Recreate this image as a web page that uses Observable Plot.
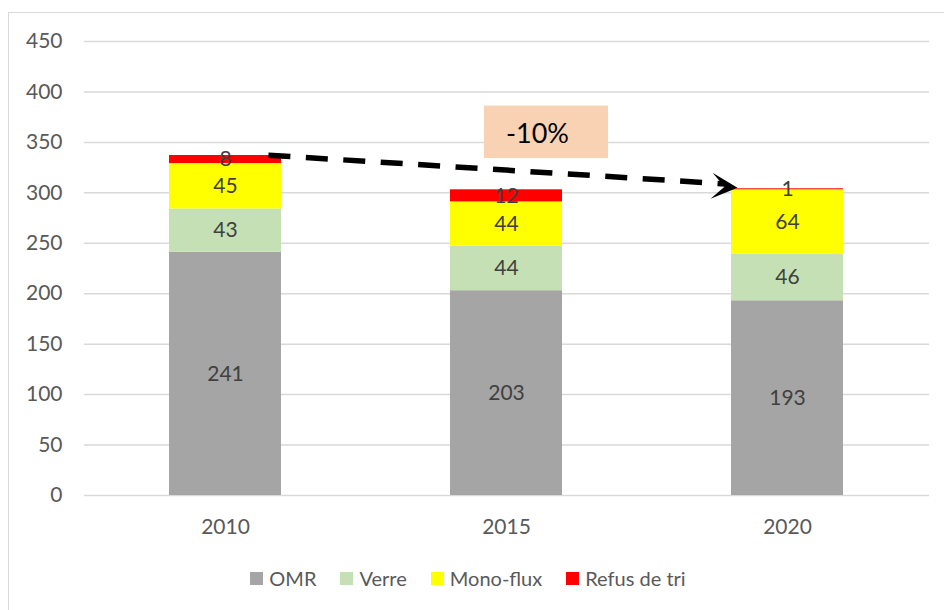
<!DOCTYPE html>
<html>
<head>
<meta charset="utf-8">
<script src="https://cdn.jsdelivr.net/npm/d3@7"></script>
<script src="https://cdn.jsdelivr.net/npm/@observablehq/plot@0.6"></script>
<style>
  html, body { margin: 0; padding: 0; background: #fff; }
  body { width: 944px; height: 610px; overflow: hidden; position: relative; font-family: Lato, "Open Sans", sans-serif; }
  #frame { position: absolute; left: 8px; top: 12px; width: 980px; height: 640px; border: 1.5px solid #d9d9d9; box-sizing: border-box; pointer-events: none; }
  #chart { position: absolute; left: 0; top: 0; }
  #legend { position: absolute; left: 0; top: 566px; width: 944px; display: flex; justify-content: center; }
  #legend .leg { display: flex; align-items: center; font-size: 20px; color: #595959; font-family: Lato, sans-serif; margin-left: -8px; }
</style>
</head>
<body>
<div id="chart"></div>
<div id="legend"></div>
<div id="frame"></div>
<script>
// ---- data ----
const years = ["2010", "2015", "2020"];
const seriesNames = ["OMR", "Verre", "Mono-flux", "Refus de tri"];
const omr = [241, 203, 193];
const verre = [43, 44, 46];
const monoFlux = [45, 44, 64];
const refus = [8, 12, 1];
const seriesColors = ["#a5a5a5", "#c5e0b4", "#ffff00", "#ff0000"];
const yTicks = [0, 50, 100, 150, 200, 250, 300, 350, 400, 450];
// annotation
const trendLabel = "-10%";
const trendFrom = {year: "2010", value: 340};
const trendTo = {year: "2020", value: 305};
const labelBox = {year: "2015", low: 334, high: 386, mid: 358};

const seriesValues = [omr, verre, monoFlux, refus];
const rows = [];
years.forEach((yr, i) => {
  seriesNames.forEach((s, j) => rows.push({year: yr, series: s, value: seriesValues[j][i]}));
});

const font = "Lato, 'Open Sans', sans-serif";

// stealth arrowhead symbol (tip at origin, pointing along the trend direction)
const angle = Math.atan2(36, 470);
const headPts = [[0, 0], [-26, -13], [-13, 0], [-26, 13]];
const stealth = {
  draw(ctx) {
    const c = Math.cos(angle), s = Math.sin(angle);
    headPts.forEach(([px, py], k) => {
      const X = px * c - py * s, Y = px * s + py * c;
      k ? ctx.lineTo(X, Y) : ctx.moveTo(X, Y);
    });
    ctx.closePath();
  }
};

const plot = Plot.plot({
  width: 944,
  height: 540,
  marginTop: 41,
  marginBottom: 45,
  marginLeft: 84,
  marginRight: 15,
  style: {fontFamily: font, fontSize: "21px", color: "#595959", background: "transparent"},
  x: {type: "band", domain: years, paddingInner: 0.6, paddingOuter: 0.3, label: null},
  y: {domain: [0, 450], label: null},
  color: {domain: seriesNames, range: seriesColors},
  marks: [
    Plot.gridY(yTicks, {stroke: "#d9d9d9", strokeOpacity: 1, strokeWidth: 1.5}),
    Plot.barY(rows, {x: "year", y: "value", fill: "series", z: "series", order: seriesNames}),
    Plot.text(rows, Plot.stackY({x: "year", y: "value", z: "series", order: seriesNames, text: "value", fill: "#404040", fontSize: 21})),
    Plot.axisY(yTicks, {tickSize: 0, tickPadding: 22, fontSize: 21, fill: "#595959"}),
    Plot.axisX({tickSize: 0, tickPadding: 24, fontSize: 21, fill: "#595959"}),
    // label box
    Plot.barY([labelBox], {x: "year", y1: "low", y2: "high", fill: "#f9d2b3", dx: 40, insetLeft: -6, insetRight: -6}),
    Plot.text([labelBox], {x: "year", y: "mid", text: () => trendLabel, dx: 31, fontSize: 27, fill: "#000"}),
    // dashed trend line
    Plot.arrow([{}], {x1: () => trendFrom.year, y1: () => trendFrom.value, x2: () => trendTo.year, y2: () => trendTo.value,
      insetStart: 43, insetEnd: 62, headLength: 0, stroke: "#000", strokeWidth: 5.5, strokeDasharray: "22,15.5", strokeLinecap: "butt"}),
    Plot.dot([trendTo], {x: "year", y: "value", dx: -50, symbol: stealth, r: 5, fill: "#000", stroke: "none"})
  ]
});
document.getElementById("chart").appendChild(plot);

// legend
const leg = document.getElementById("legend");
const legInner = document.createElement("div");
legInner.className = "leg";
const colorScale = plot.scale("color");
seriesNames.forEach((s, i) => {
  const sw = document.createElement("span");
  sw.style.cssText = `display:inline-block;width:13px;height:13px;background:${colorScale.apply(s)};margin-right:6px;margin-left:${i ? 24 : 0}px;`;
  const t = document.createElement("span");
  t.textContent = s;
  legInner.appendChild(sw);
  legInner.appendChild(t);
});
leg.appendChild(legInner);
</script>
</body>
</html>
